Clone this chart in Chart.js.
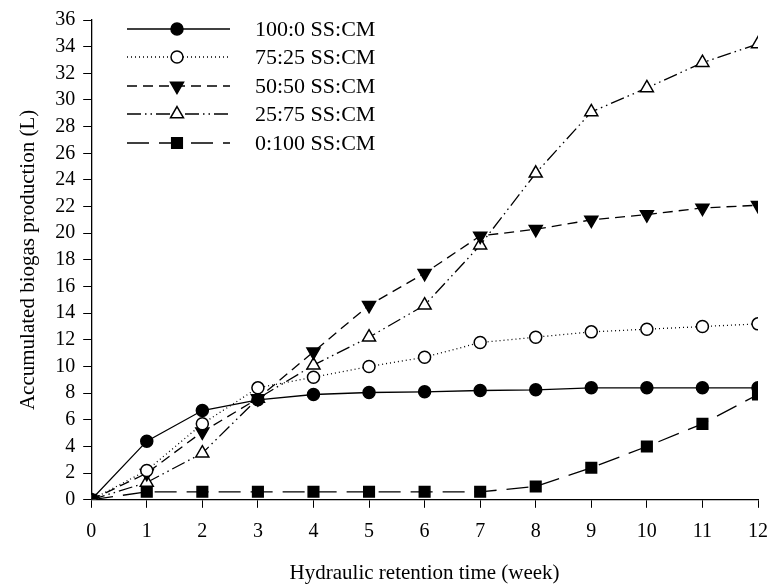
<!DOCTYPE html>
<html lang="en">
<head>
    <meta charset="UTF-8">
    <title>Accumulated Biogas Production</title>
    <script src="https://cdn.jsdelivr.net/npm/chart.js"></script>
    <style>
        body { margin: 0; padding: 0; background: white; overflow: hidden; }
        canvas { display: block; }
    </style>
</head>
<body>
<canvas id="biogasChart" width="771" height="588"></canvas>
<script>
    // weeks of hydraulic retention time
    const weeks = [0, 1, 2, 3, 4, 5, 6, 7, 8, 9, 10, 11, 12];

    // accumulated biogas (L)
    const ss100cm0 = [0, 4.4, 6.7, 7.5, 7.9, 8.05, 8.1, 8.2, 8.25, 8.4, 8.4, 8.4, 8.4];
    const ss75cm25 = [0, 2.2, 5.7, 8.4, 9.2, 10.0, 10.7, 11.8, 12.2, 12.6, 12.8, 13.0, 13.2];
    const ss50cm50 = [0, 2.0, 5.1, 7.6, 11.1, 14.6, 17.0, 19.8, 20.3, 21.0, 21.4, 21.9, 22.1];
    const ss25cm75 = [0, 1.3, 3.5, 7.6, 10.1, 12.2, 14.6, 19.1, 24.5, 29.1, 30.9, 32.8, 34.2];
    const ss0cm100 = [0, 0.6, 0.6, 0.6, 0.6, 0.6, 0.6, 0.6, 1.0, 2.4, 4.0, 5.7, 7.9];

    const seriesLabels = ['100:0 SS:CM', '75:25 SS:CM', '50:50 SS:CM', '25:75 SS:CM', '0:100 SS:CM'];

    const FONT = '"Liberation Serif", "Times New Roman", serif';

    function pts(values) {
        return weeks.map((w, i) => ({ x: w, y: values[i] }));
    }

    function makeSet(label, values, style) {
        return Object.assign({
            label: label,
            data: pts(values),
            borderColor: '#000',
            borderWidth: 1.3,
            pointBorderColor: '#000',
            pointBorderWidth: 1.5,
            tension: 0,
            fill: false
        }, style);
    }

    const datasets = [
        makeSet(seriesLabels[0], ss100cm0, { pointStyle: 'circle', pointRadius: 6, pointBackgroundColor: '#000' }),
        makeSet(seriesLabels[1], ss75cm25, { pointStyle: 'circle', pointRadius: 6, pointBackgroundColor: '#fff', borderDash: [1, 3] }),
        makeSet(seriesLabels[2], ss50cm50, { pointStyle: 'triangle', pointRadius: 7.5, pointRotation: 180, pointBackgroundColor: '#000', borderDash: [10, 6] }),
        makeSet(seriesLabels[3], ss25cm75, { pointStyle: 'triangle', pointRadius: 7.5, pointBackgroundColor: '#fff', borderDash: [14, 4, 1.5, 4, 1.5, 4] }),
        makeSet(seriesLabels[4], ss0cm100, { pointStyle: 'rect', pointRadius: 7.5, pointBackgroundColor: '#000', borderDash: [22, 10] })
    ];

    // legend drawn in the top-left corner, line + marker + text
    const insideLegend = {
        id: 'insideLegend',
        afterDraw(chart) {
            const ctx = chart.ctx;
            const rows = [29, 57, 86, 114, 143];
            ctx.save();
            chart.data.datasets.forEach((ds, i) => {
                const y = rows[i];
                ctx.strokeStyle = '#000';
                ctx.lineWidth = ds.borderWidth;
                ctx.setLineDash(ds.borderDash || []);
                ctx.beginPath();
                ctx.moveTo(127, y);
                ctx.lineTo(230, y);
                ctx.stroke();
                ctx.setLineDash([]);
                ctx.fillStyle = ds.pointBackgroundColor;
                ctx.lineWidth = ds.pointBorderWidth;
                Chart.helpers.drawPoint(ctx, {
                    pointStyle: ds.pointStyle,
                    radius: ds.pointRadius,
                    rotation: ds.pointRotation || 0,
                    borderWidth: ds.pointBorderWidth
                }, 177, y);
                ctx.fillStyle = '#000';
                ctx.font = '22px ' + FONT;
                ctx.textBaseline = 'middle';
                ctx.textAlign = 'left';
                ctx.fillText(ds.label, 255, y + 1);
            });
            ctx.restore();
        }
    };

    const ctx = document.getElementById('biogasChart').getContext('2d');
    const biogasChart = new Chart(ctx, {
        type: 'line',
        data: { datasets: datasets },
        options: {
            responsive: false,
            animation: false,
            layout: { padding: { top: 10, right: 2, bottom: 0, left: 16 } },
            plugins: {
                legend: { display: false },
                tooltip: { enabled: false }
            },
            scales: {
                x: {
                    type: 'linear',
                    min: 0,
                    max: 12,
                    afterFit(scale) { scale.paddingRight = 13; },
                    ticks: { stepSize: 1, autoSkip: false, color: '#000', padding: 12, font: { family: FONT, size: 20 } },
                    grid: { display: true, drawOnChartArea: false, drawTicks: true, tickLength: 8, color: '#000' },
                    border: { display: true, color: '#000', width: 1.3 },
                    title: { display: true, text: 'Hydraulic retention time (week)', color: '#000', padding: { top: 5, bottom: 2 }, font: { family: FONT, size: 21 } }
                },
                y: {
                    min: 0,
                    max: 36,
                    ticks: { stepSize: 2, autoSkip: false, color: '#000', padding: 8, font: { family: FONT, size: 20 } },
                    grid: { display: true, drawOnChartArea: false, drawTicks: true, tickLength: 8, color: '#000' },
                    border: { display: true, color: '#000', width: 1.3 },
                    title: { display: true, text: 'Accumulated biogas production (L)', color: '#000', padding: { top: 0, bottom: 6 }, font: { family: FONT, size: 21 } }
                }
            }
        },
        plugins: [insideLegend]
    });
</script>
</body>
</html>
